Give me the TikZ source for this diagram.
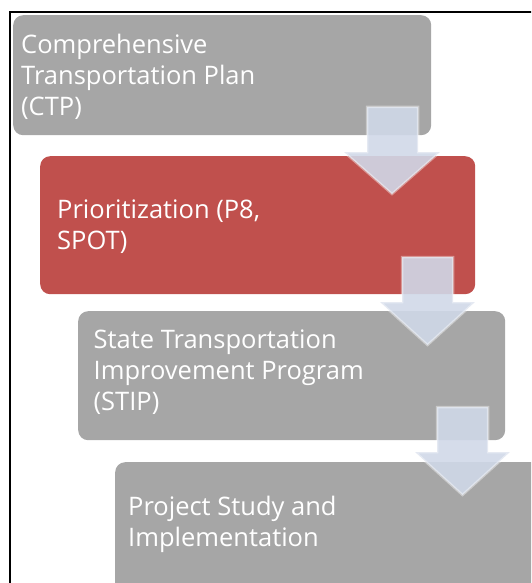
\documentclass[tikz,border=0pt]{standalone}
\usepackage{fontspec}
\setmainfont{Open Sans}
\definecolor{boxgray}{HTML}{A6A6A6}
\definecolor{boxred}{HTML}{C0504D}
\definecolor{arrowblue}{HTML}{D0D8E8}
\tikzset{
  box/.style={rounded corners=10pt, inner sep=0pt, anchor=north west},
  graybox/.style={box, fill=boxgray},
  redbox/.style={box, fill=boxred},
  lbl/.style={anchor=base west, inner sep=0pt, align=left, text=white,
    font=\fontsize{25.5}{31}\selectfont},
  flow/.style={fill=arrowblue, fill opacity=0.9, draw=white, draw opacity=0.4,
    line width=2.5pt, line join=miter},
  frame/.style={draw=black, line width=2pt}
}
\begin{document}
\begin{tikzpicture}[x=1pt, y=-1pt]
  \useasboundingbox (0,0) rectangle (531,583);
  \clip (0,0) rectangle (531,583);
  % frame
  \draw[frame] (10,590) -- (10,12) -- (540,12);
  % boxes
  \node[graybox, minimum width=418pt, minimum height=120pt] (b1) at (13,15) {};
  \node[redbox,  minimum width=435pt, minimum height=138pt] (b2) at (40,156) {};
  \node[graybox, minimum width=427pt, minimum height=129pt] (b3) at (78,311) {};
  \node[graybox, minimum width=427pt, minimum height=135pt] (b4) at (115,462) {};
  % texts (anchor = baseline of last line)
  \node[lbl] (t1) at (21,115) {Comprehensive\\Transportation Plan\\(CTP)};
  \node[lbl] (t2) at (57,249) {Prioritization (P8,\\SPOT)};
  \node[lbl] (t3) at (93.5,410) {State Transportation\\Improvement Program\\(STIP)};
  \node[lbl] (t4) at (128,546) {Project Study and\\Implementation};
  % arrows
  \draw[flow] (367,107) -- (418,107) -- (418,152) -- (440,152) -- (392,194)
    -- (344,152) -- (367,152) -- cycle;
  \draw[flow] (402,257) -- (453,257) -- (453,302) -- (475,302) -- (427.5,345)
    -- (380,302) -- (402,302) -- cycle;
  \draw[flow] (437,407) -- (488,407) -- (488,452) -- (510,452) -- (462.5,495)
    -- (415,452) -- (437,452) -- cycle;
\end{tikzpicture}
\end{document}
